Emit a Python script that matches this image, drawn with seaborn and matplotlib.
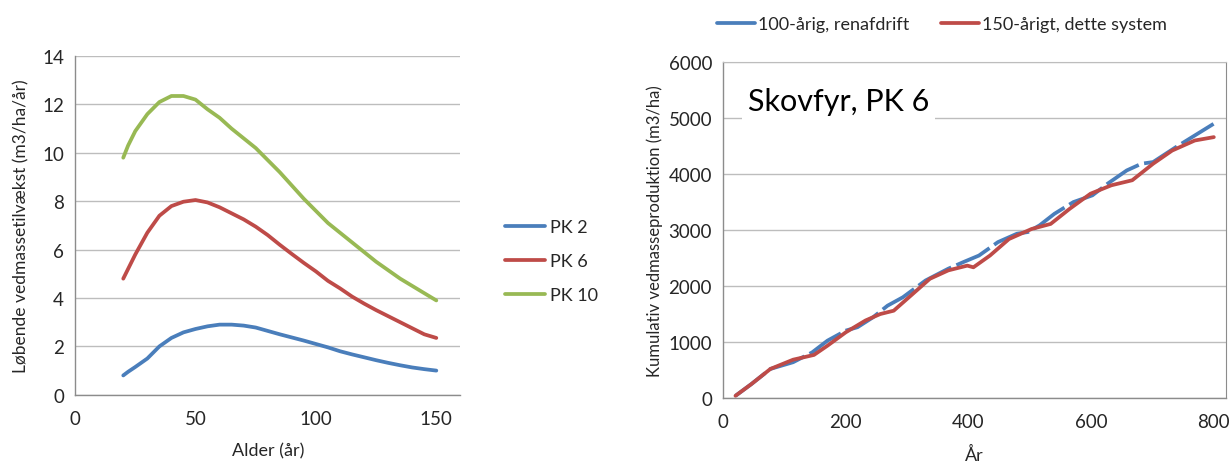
import matplotlib
matplotlib.use("Agg")
import matplotlib.pyplot as plt
import seaborn as sns
import pandas as pd
from matplotlib.lines import Line2D

# ---------------- data ----------------
alder = [20, 22, 25, 30, 35, 40, 45, 50, 55, 60, 65, 70, 75, 80, 85, 90, 95,
         100, 105, 110, 115, 120, 125, 130, 135, 140, 145, 150]
pk2 = [0.8, 0.95, 1.15, 1.5, 2.0, 2.35, 2.58, 2.72, 2.83, 2.9, 2.9, 2.86, 2.78,
       2.64, 2.5, 2.37, 2.24, 2.1, 1.96, 1.8, 1.67, 1.55, 1.43, 1.32, 1.22, 1.13, 1.06, 1.0]
pk6 = [4.8, 5.2, 5.8, 6.7, 7.4, 7.8, 7.98, 8.05, 7.95, 7.75, 7.5, 7.25, 6.95,
       6.6, 6.2, 5.82, 5.45, 5.1, 4.71, 4.4, 4.06, 3.77, 3.5, 3.25, 3.0, 2.75, 2.5, 2.35]
pk10 = [9.8, 10.3, 10.9, 11.6, 12.1, 12.35, 12.35, 12.2, 11.8, 11.45, 11.0, 10.6,
        10.2, 9.7, 9.2, 8.65, 8.1, 7.6, 7.1, 6.7, 6.3, 5.9, 5.5, 5.15, 4.8, 4.5, 4.2, 3.9]
serie_navne = ["PK 2", "PK 6", "PK 10"]

aar_100 = [20, 46, 77, 114, 145, 170, 200, 219, 244, 268, 293, 330, 367, 392, 417,
           448, 479, 497, 516, 540, 571, 602, 627, 658, 682, 701, 738, 769, 800]
kum_100 = [40, 250, 520, 640, 815, 1025, 1205, 1265, 1440, 1650, 1800, 2100, 2310,
           2430, 2545, 2785, 2935, 2965, 3085, 3290, 3500, 3620, 3830, 4065, 4185,
           4215, 4480, 4690, 4900]
aar_150 = [20, 46, 77, 114, 148, 170, 200, 232, 256, 278, 306, 337, 367, 398, 408,
           435, 466, 503, 534, 565, 599, 633, 667, 701, 732, 769, 800]
kum_150 = [40, 250, 520, 685, 770, 935, 1175, 1385, 1500, 1560, 1830, 2130, 2280,
           2365, 2335, 2545, 2840, 3020, 3110, 3380, 3650, 3800, 3890, 4185, 4420,
           4600, 4660]
label_100 = "100-årig, renafdrift"
label_150 = "150-årigt, dette system"

# ---------------- style ----------------
sns.set_style("white")
plt.rcParams['font.family'] = ['Lato', 'DejaVu Sans']

FS = 13.5
BLUE = "#4a7ebb"
RED = "#be4b48"
GREEN = "#98b954"
GRID = "#bdbdbd"
SPINE = "#8c8c8c"
TXT = "#262626"

fig = plt.figure(figsize=(12.31, 4.64), dpi=100)
ax1 = fig.add_axes([0.061, 0.147, 0.313, 0.730])
ax2 = fig.add_axes([0.5875, 0.140, 0.4085, 0.724])

# left chart
df1 = pd.DataFrame({
    "Alder": alder * 3,
    "Tilvaekst": pk2 + pk6 + pk10,
    "Serie": [serie_navne[0]] * len(alder) + [serie_navne[1]] * len(alder) + [serie_navne[2]] * len(alder),
})
sns.lineplot(data=df1, x="Alder", y="Tilvaekst", hue="Serie",
             palette=[BLUE, RED, GREEN], linewidth=2.7, ax=ax1, legend=False)
ax1.set_xlim(0, 160)
ax1.set_ylim(0, 14)
ax1.set_xticks([0, 50, 100, 150])
ax1.set_yticks(range(0, 15, 2))
ax1.set_xlabel("Alder (år)", fontsize=FS - 0.5, color=TXT, labelpad=11)
ax1.set_ylabel("Løbende vedmassetilvækst (m3/ha/år)", fontsize=FS - 1, color=TXT, labelpad=9)
handles = [Line2D([], [], color=c, lw=2.7) for c in [BLUE, RED, GREEN]]
fig.legend(handles, serie_navne, loc="center left", bbox_to_anchor=(505 / 1231, 1 - 262 / 464),
           frameon=False, fontsize=FS - 0.5, handlelength=2.2, handletextpad=0.3,
           labelspacing=1.0, borderpad=0, borderaxespad=0, labelcolor=TXT)

# right chart
df_100 = pd.DataFrame({"Aar": aar_100, "Kum": kum_100})
df_150 = pd.DataFrame({"Aar": aar_150, "Kum": kum_150})
sns.lineplot(data=df_100, x="Aar", y="Kum", color=BLUE, linewidth=2.7, ax=ax2,
             label=label_100)
ax2.lines[-1].set_dashes([10, 1.5])
sns.lineplot(data=df_150, x="Aar", y="Kum", color=RED, linewidth=2.7, ax=ax2,
             label=label_150)
ax2.set_xlim(0, 820)
ax2.set_ylim(0, 6000)
ax2.set_xticks([0, 200, 400, 600, 800])
ax2.set_yticks(range(0, 6001, 1000))
ax2.set_xlabel("År", fontsize=FS - 0.5, color=TXT, labelpad=11)
ax2.set_ylabel("Kumulativ vedmasseproduktion (m3/ha)", fontsize=FS - 1.5, color=TXT)
h2 = [Line2D([], [], color=BLUE, lw=2.7), Line2D([], [], color=RED, lw=2.7)]
ax2.legend(h2, [label_100, label_150], loc="center left",
           bbox_to_anchor=(717 / 1231, 1 - 25 / 464),
           bbox_transform=fig.transFigure, ncol=2, frameon=False, fontsize=FS - 0.5,
           handlelength=2.1, columnspacing=1.8, handletextpad=0.15, borderpad=0,
           borderaxespad=0, labelcolor=TXT)
ax2.text(40, 5300, "Skovfyr, PK 6", fontsize=22, color="black", va="center", ha="left",
         bbox=dict(facecolor="white", edgecolor="none", pad=4), zorder=3)

for ax in (ax1, ax2):
    ax.grid(axis="y", color=GRID, linewidth=1)
    ax.set_axisbelow(True)
    for s in ["top", "right"]:
        ax.spines[s].set_visible(False)
    for s in ["left", "bottom"]:
        ax.spines[s].set_color(SPINE)
        ax.spines[s].set_linewidth(1)
    ax.tick_params(axis="both", direction="out", length=5, width=1, color=SPINE,
                   labelsize=FS, labelcolor=TXT, pad=3)
    ax.tick_params(axis="x", pad=6)
ax2.spines["right"].set_visible(True)
ax2.spines["right"].set_color(SPINE)
ax2.spines["top"].set_visible(True)
ax2.spines["top"].set_color(GRID)

fig.savefig("out.png", dpi=100)
